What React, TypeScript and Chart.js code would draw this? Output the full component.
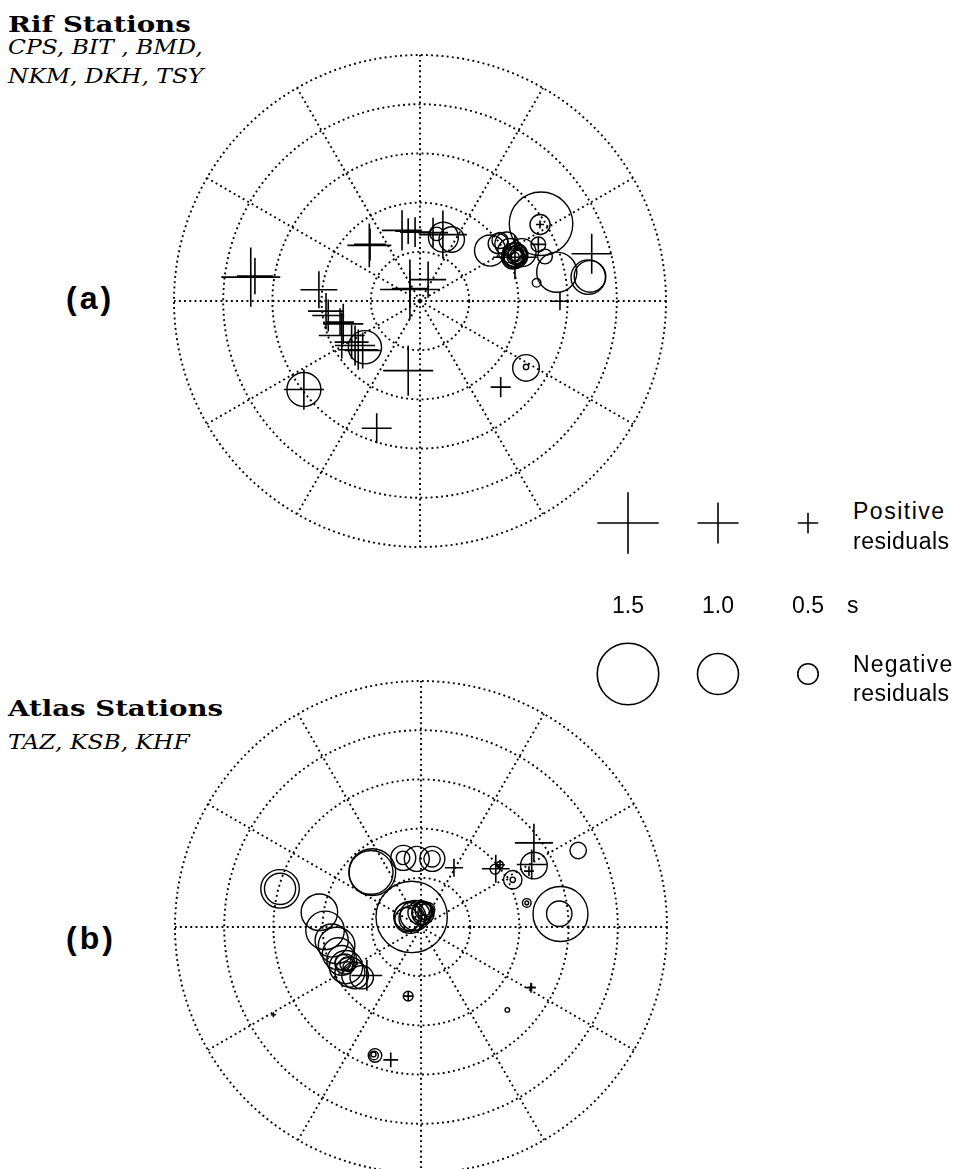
import React, { useEffect, useRef } from 'react';
import { Chart, registerables } from 'chart.js';

Chart.register(...registerables);

// ---------- DATA ----------
// Projected ray positions: east / north, outer circle = 1. Residuals in s (+ = cross, - = circle).
const rifEast = [
  -0.688, -0.671, -0.206, -0.203, -0.073, -0.048, -0.02, 0.093, -0.041, -0.041,
  0.033, 0.0, -0.411, -0.382, -0.373, -0.325, -0.312, -0.318, -0.278, -0.264,
  -0.251, -0.233, -0.048, -0.472, -0.176, 0.386, 0.698, 0.569, 0.488, 0.481,
  0.328, 0.053,
  0.095, 0.129, 0.068, -0.224, -0.472, 0.492, 0.488, 0.285, 0.318, 0.325,
  0.352, 0.386, 0.386, 0.382, 0.386, 0.39, 0.386, 0.481, 0.508, 0.556,
  0.474, 0.684, 0.691, 0.431, 0.431, 0.415, 0.366, 0.395, 0.378, 0.4,
];
const rifNorth = [
  0.097, 0.101, 0.226, 0.23, 0.287, 0.284, 0.28, 0.27, 0.047, 0.051,
  0.087, 0.0, 0.046, -0.041, -0.059, -0.086, -0.093, -0.14, -0.167, -0.181,
  -0.198, -0.201, -0.283, -0.36, -0.517, 0.178, 0.192, -0.001, 0.311, 0.23,
  -0.35, 0.278,
  0.259, 0.25, 0.273, -0.188, -0.36, 0.314, 0.311, 0.205, 0.233, 0.246,
  0.233, 0.185, 0.185, 0.181, 0.181, 0.185, 0.181, 0.23, 0.181, 0.117,
  0.074, 0.097, 0.1, -0.272, -0.268, 0.197, 0.205, 0.19, 0.176, 0.178,
];
const rifResidual = [
  1.44, 0.88, 1.07, 0.78, 0.98, 0.63, 0.73, 1.17, 1.46, 0.88,
  0.88, 0.12, 0.9, 0.88, 0.78, 0.68, 0.98, 1.12, 0.83, 0.98,
  0.98, 0.88, 1.22, 0.98, 0.73, 1.07, 0.98, 0.44, 0.2, 0.34,
  0.49, 0.73,
  -0.73, -0.62, -0.33, -0.81, -0.83, -1.55, -0.49, -0.76, -0.49, -0.39,
  -0.57, -0.63, -0.58, -0.49, -0.39, -0.29, -0.2, -0.36, -0.36, -0.98,
  -0.21, -0.84, -0.77, -0.65, -0.13, -0.68, -0.59, -0.45, -0.55, -0.35,
];

const atlasEast = [
  0.134, 0.304, 0.321, 0.459, 0.45, 0.439, -0.22, -0.052, -0.6, -0.123, 0.447, 0.449,
  -0.573, -0.573, -0.198, -0.203, -0.072, -0.073, -0.017, 0.046, 0.045, 0.301,
  0.321, 0.373, 0.373, 0.459, 0.639, 0.43, 0.43, 0.567, 0.562, -0.038,
  -0.053, -0.045, -0.037, -0.057, -0.024, -0.004, 0.008, 0.012, 0.02, 0.028,
  0.004, 0.016, -0.413, -0.39, -0.363, -0.343, -0.336, -0.322, -0.309, -0.302,
  -0.289, -0.268, -0.241, -0.305, -0.317, -0.297, -0.052, -0.187, -0.191, -0.193,
  0.351,
];
const atlasNorth = [
  0.241, 0.237, 0.253, 0.342, 0.254, 0.227, -0.197, -0.281, -0.357, -0.54, -0.247, -0.245,
  0.155, 0.155, 0.223, 0.222, 0.281, 0.281, 0.277, 0.277, 0.277, 0.235,
  0.253, 0.192, 0.192, 0.25, 0.311, 0.098, 0.098, 0.053, 0.054, 0.041,
  0.043, 0.039, 0.035, 0.03, 0.047, 0.059, 0.055, 0.067, 0.063, 0.071,
  0.063, 0.071, 0.06, -0.014, -0.055, -0.075, -0.109, -0.136, -0.15, -0.15,
  -0.184, -0.197, -0.204, -0.163, -0.144, -0.161, -0.281, -0.522, -0.522, -0.518,
  -0.337,
];
const atlasResidual = [
  0.44, 0.68, 0.24, 0.93, 0.73, 0.24, 0.75, 0.24, 0.12, 0.36, 0.24, 0.2,
  -0.94, -0.76, -1.14, -1.07, -0.61, -0.33, -0.61, -0.61, -0.4, -0.24,
  -0.16, -0.45, -0.13, -0.65, -0.4, -0.21, -0.09, -1.34, -0.62, -1.74,
  -0.68, -0.78, -0.63, -0.59, -0.73, -0.59, -0.54, -0.44, -0.39, -0.34,
  -0.49, -0.29, -0.89, -0.94, -0.81, -0.89, -0.78, -0.73, -0.49, -0.33,
  -0.73, -0.65, -0.57, -0.81, -0.39, -0.24, -0.24, -0.33, -0.21, -0.12,
  -0.11,
];

const ringFractions = [0.2, 0.4, 0.6, 0.8, 1.0];
const spokeAzimuths = [0, 30, 60, 90, 120, 150, 180, 210, 240, 270, 300, 330];

const legendSizes = [1.5, 1.0, 0.5];
const legendLabels = ['1.5', '1.0', '0.5'];

// ---------- STYLE CONSTANTS ----------
const PLOT_RADIUS_PX = 246;
const CANVAS_PX = 520;
const PX_PER_SECOND = 20.5;
const RANGE = CANVAS_PX / 2 / PLOT_RADIUS_PX;
const SANS = '"Liberation Sans", Arial, sans-serif';
const SERIF = '"DejaVu Serif", serif';

const polarGridPlugin = {
  id: 'polarGrid',
  beforeDatasetsDraw(chart: any) {
    const { ctx } = chart;
    const xs = chart.scales.x;
    const ys = chart.scales.y;
    const cx = xs.getPixelForValue(0);
    const cy = ys.getPixelForValue(0);
    const r1 = xs.getPixelForValue(1) - cx;
    ctx.save();
    ctx.strokeStyle = '#000';
    ctx.lineWidth = 1.9;
    ctx.setLineDash([1.9, 3.3]);
    for (const f of ringFractions) {
      ctx.beginPath();
      ctx.arc(cx, cy, f * r1, 0, Math.PI * 2);
      ctx.stroke();
    }
    for (const a of spokeAzimuths) {
      const rad = (a * Math.PI) / 180;
      ctx.beginPath();
      ctx.moveTo(cx, cy);
      ctx.lineTo(cx + r1 * Math.sin(rad), cy - r1 * Math.cos(rad));
      ctx.stroke();
    }
    ctx.restore();
  },
};

function PolarPlot({ east, north, residual, left, top }: any) {
  const ref = useRef<HTMLCanvasElement>(null);
  useEffect(() => {
    const pos: any[] = [];
    const posR: number[] = [];
    const neg: any[] = [];
    const negR: number[] = [];
    residual.forEach((r: number, i: number) => {
      const p = { x: east[i], y: north[i] };
      if (r >= 0) {
        pos.push(p);
        posR.push(r * PX_PER_SECOND);
      } else {
        neg.push(p);
        negR.push(-r * PX_PER_SECOND);
      }
    });
    const chart = new Chart(ref.current as HTMLCanvasElement, {
      type: 'scatter',
      data: {
        datasets: [
          {
            label: 'Positive residuals',
            data: pos,
            pointStyle: 'cross',
            pointRadius: posR,
            borderColor: '#000',
            backgroundColor: '#000',
            pointBorderWidth: 1.6,
          },
          {
            label: 'Negative residuals',
            data: neg,
            pointStyle: 'circle',
            pointRadius: negR,
            borderColor: '#000',
            backgroundColor: 'rgba(0,0,0,0)',
            pointBorderWidth: 1.4,
          },
        ],
      },
      options: {
        responsive: false,
        animation: false,
        devicePixelRatio: 1,
        events: [],
        layout: { padding: 0, autoPadding: false },
        scales: {
          x: { type: 'linear', min: -RANGE, max: RANGE, display: false },
          y: { type: 'linear', min: -RANGE, max: RANGE, display: false },
        },
        plugins: { legend: { display: false }, tooltip: { enabled: false } },
      } as any,
      plugins: [polarGridPlugin],
    });
    return () => chart.destroy();
  }, []);
  return (
    <canvas
      ref={ref}
      width={CANVAS_PX}
      height={CANVAS_PX}
      style={{ position: 'absolute', left, top, width: CANVAS_PX, height: CANVAS_PX }}
    />
  );
}

function LegendPlot() {
  const ref = useRef<HTMLCanvasElement>(null);
  useEffect(() => {
    const chart = new Chart(ref.current as HTMLCanvasElement, {
      type: 'line',
      data: {
        labels: legendLabels,
        datasets: [
          {
            label: 'Positive residuals',
            data: legendSizes.map(() => 1),
            showLine: false,
            pointStyle: 'cross',
            pointRadius: legendSizes.map((s) => s * PX_PER_SECOND),
            borderColor: '#000',
            pointBorderWidth: 1.6,
          },
          {
            label: 'Negative residuals',
            data: legendSizes.map(() => -1),
            showLine: false,
            pointStyle: 'circle',
            pointRadius: legendSizes.map((s) => s * PX_PER_SECOND),
            borderColor: '#000',
            backgroundColor: 'rgba(0,0,0,0)',
            pointBorderWidth: 1.6,
          },
        ],
      },
      options: {
        responsive: false,
        animation: false,
        devicePixelRatio: 1,
        events: [],
        layout: { padding: 0, autoPadding: false },
        scales: {
          x: {
            type: 'category',
            offset: true,
            position: { y: 0.07 },
            grid: { display: false, drawTicks: false },
            border: { display: false },
            ticks: { color: '#000', padding: 0, font: { family: SANS, size: 23 } },
            afterFit: (s: any) => {
              s.height = 0;
            },
          },
          y: { type: 'linear', min: -1.61, max: 1.57, display: false },
        },
        plugins: { legend: { display: false }, tooltip: { enabled: false } },
      } as any,
    });
    return () => chart.destroy();
  }, []);
  return (
    <canvas
      ref={ref}
      width={270}
      height={240}
      style={{ position: 'absolute', left: 583, top: 480, width: 270, height: 240 }}
    />
  );
}

const txt = (extra: any): any => ({
  position: 'absolute',
  whiteSpace: 'nowrap',
  margin: 0,
  color: '#000',
  transformOrigin: 'left center',
  ...extra,
});

export default function App() {
  return (
    <div
      style={{
        position: 'fixed',
        left: 0,
        top: 0,
        width: 962,
        height: 1169,
        overflow: 'hidden',
        background: '#fff',
      }}
    >
      <div style={txt({ left: 8, top: 12, font: `bold 23px/23px ${SERIF}`, transform: 'scaleX(1.2)' })}>Rif Stations</div>
      <div style={txt({ left: 8, top: 37, font: `italic 20px/20px ${SERIF}`, transform: 'scaleX(1.17)' })}>CPS, BIT , BMD,</div>
      <div style={txt({ left: 8, top: 66, font: `italic 20px/20px ${SERIF}`, transform: 'scaleX(1.17)' })}>NKM, DKH, TSY</div>
      <div style={txt({ left: 66, top: 282, font: `bold 32px/32px ${SANS}`, letterSpacing: '3px' })}>(a)</div>

      <div style={txt({ left: 8, top: 696, font: `bold 23px/23px ${SERIF}`, transform: 'scaleX(1.2)' })}>Atlas Stations</div>
      <div style={txt({ left: 8, top: 732, font: `italic 20px/20px ${SERIF}`, transform: 'scaleX(1.17)' })}>TAZ, KSB, KHF</div>
      <div style={txt({ left: 66, top: 922, font: `bold 32px/32px ${SANS}`, letterSpacing: '3px' })}>(b)</div>

      <PolarPlot east={rifEast} north={rifNorth} residual={rifResidual} left={420 - CANVAS_PX / 2} top={300.5 - CANVAS_PX / 2} />
      <PolarPlot east={atlasEast} north={atlasNorth} residual={atlasResidual} left={421 - CANVAS_PX / 2} top={926.5 - CANVAS_PX / 2} />
      <LegendPlot />

      <div style={txt({ left: 853, top: 500, font: `23px/23px ${SANS}`, letterSpacing: '1.5px' })}>Positive</div>
      <div style={txt({ left: 853, top: 530, font: `23px/23px ${SANS}`, letterSpacing: '0.5px' })}>residuals</div>
      <div style={txt({ left: 847, top: 594, font: `23px/23px ${SANS}` })}>s</div>
      <div style={txt({ left: 853, top: 653, font: `23px/23px ${SANS}`, letterSpacing: '1.2px' })}>Negative</div>
      <div style={txt({ left: 853, top: 682, font: `23px/23px ${SANS}`, letterSpacing: '0.5px' })}>residuals</div>
    </div>
  );
}
